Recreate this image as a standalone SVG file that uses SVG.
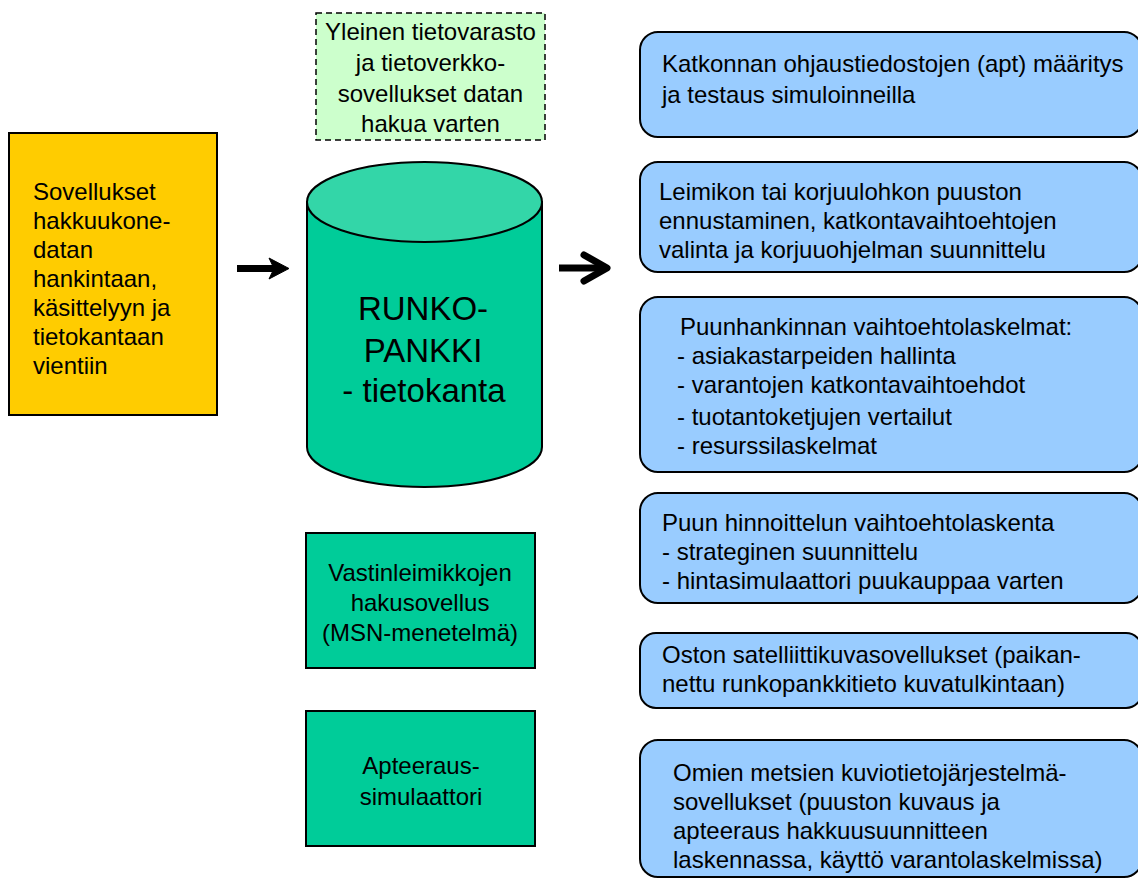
<svg xmlns="http://www.w3.org/2000/svg" width="1138" height="879" viewBox="0 0 1138 879">
<style>
text{font-family:"Liberation Sans",Arial,sans-serif;font-size:24px;fill:#000}
.blue{fill:#99ccff;stroke:#000;stroke-width:2}
.green{fill:#00cc99;stroke:#000;stroke-width:2}
.mid{text-anchor:middle}
</style>
<rect width="1138" height="879" fill="#fff"/>
<g id="source">
<rect x="9" y="133" width="208" height="282" fill="#ffcc00" stroke="#000" stroke-width="2"/>
<text x="33" y="200">Sovellukset</text>
<text x="33" y="229">hakkuukone-</text>
<text x="33" y="258">datan</text>
<text x="33" y="287">hankintaan,</text>
<text x="33" y="316">käsittelyyn ja</text>
<text x="33" y="345">tietokantaan</text>
<text x="33" y="374">vientiin</text>
</g>
<g id="warehouse">
<rect x="316" y="13" width="229" height="127" fill="#ccffcc" stroke="#000" stroke-width="1.5" stroke-dasharray="6,4"/>
<text class="mid" x="430.5" y="40">Yleinen tietovarasto</text>
<text class="mid" x="430.5" y="71">ja tietoverkko-</text>
<text class="mid" x="430.5" y="102">sovellukset datan</text>
<text class="mid" x="430.5" y="132">hakua varten</text>
</g>
<g id="database">
<path d="M307,202 L307,447 A117.5,40 0 0 0 542,447 L542,202 Z" fill="#00cc99" stroke="#000" stroke-width="2"/>
<ellipse cx="424.5" cy="202" rx="117.5" ry="40" fill="#33d6a8" stroke="#000" stroke-width="2"/>
<text class="mid" x="423" y="320" style="font-size:33px">RUNKO-</text>
<text class="mid" x="423" y="362" style="font-size:33px">PANKKI</text>
<text class="mid" x="424" y="402" style="font-size:33px">- tietokanta</text>
</g>
<g id="msn">
<rect class="green" x="306" y="533" width="229" height="135"/>
<text class="mid" x="420" y="581">Vastinleimikkojen</text>
<text class="mid" x="420" y="611">hakusovellus</text>
<text class="mid" x="420" y="641">(MSN-menetelmä)</text>
</g>
<g id="simulator">
<rect class="green" x="306" y="711" width="229" height="135"/>
<text class="mid" x="421" y="774">Apteeraus-</text>
<text class="mid" x="421" y="805">simulaattori</text>
</g>
<g id="app1">
<rect class="blue" x="640" y="32" width="502" height="105" rx="18"/>
<text x="662" y="72">Katkonnan ohjaustiedostojen (apt) määritys</text>
<text x="662" y="103">ja testaus simuloinneilla</text>
</g>
<g id="app2">
<rect class="blue" x="640" y="162" width="502" height="110" rx="18"/>
<text x="659" y="200">Leimikon tai korjuulohkon puuston</text>
<text x="659" y="229">ennustaminen, katkontavaihtoehtojen</text>
<text x="659" y="258">valinta ja korjuuohjelman suunnittelu</text>
</g>
<g id="app3">
<rect class="blue" x="640" y="297" width="502" height="175" rx="18"/>
<text x="680" y="335">Puunhankinnan vaihtoehtolaskelmat:</text>
<text x="677" y="364">- asiakastarpeiden hallinta</text>
<text x="677" y="393">- varantojen katkontavaihtoehdot</text>
<text x="677" y="425">- tuotantoketjujen vertailut</text>
<text x="677" y="454">- resurssilaskelmat</text>
</g>
<g id="app4">
<rect class="blue" x="640" y="493" width="502" height="110" rx="18"/>
<text x="662" y="531">Puun hinnoittelun vaihtoehtolaskenta</text>
<text x="662" y="560">- strateginen suunnittelu</text>
<text x="662" y="589">- hintasimulaattori puukauppaa varten</text>
</g>
<g id="app5">
<rect class="blue" x="640" y="633" width="502" height="75" rx="16"/>
<text x="662" y="663">Oston satelliittikuvasovellukset (paikan-</text>
<text x="662" y="692">nettu runkopankkitieto kuvatulkintaan)</text>
</g>
<g id="app6">
<rect class="blue" x="640" y="740" width="502" height="137" rx="18"/>
<text x="673" y="781">Omien metsien kuviotietojärjestelmä-</text>
<text x="673" y="810">sovellukset (puuston kuvaus ja</text>
<text x="673" y="839">apteeraus hakkuusuunnitteen</text>
<text x="673" y="868">laskennassa, käyttö varantolaskelmissa)</text>
</g>
<g id="connectors">
<line x1="237" y1="268.5" x2="274" y2="268.5" stroke="#000" stroke-width="7"/>
<path d="M269,258 L289,268.5 L269,279 L274,268.5 Z" fill="#000" stroke="#000" stroke-width="1" stroke-linejoin="miter"/>
<line x1="559" y1="268" x2="606" y2="268" stroke="#000" stroke-width="7"/>
<path d="M584,255 L607,268 L584,281" fill="none" stroke="#000" stroke-width="7" stroke-linecap="round" stroke-linejoin="round"/>
</g>
</svg>
